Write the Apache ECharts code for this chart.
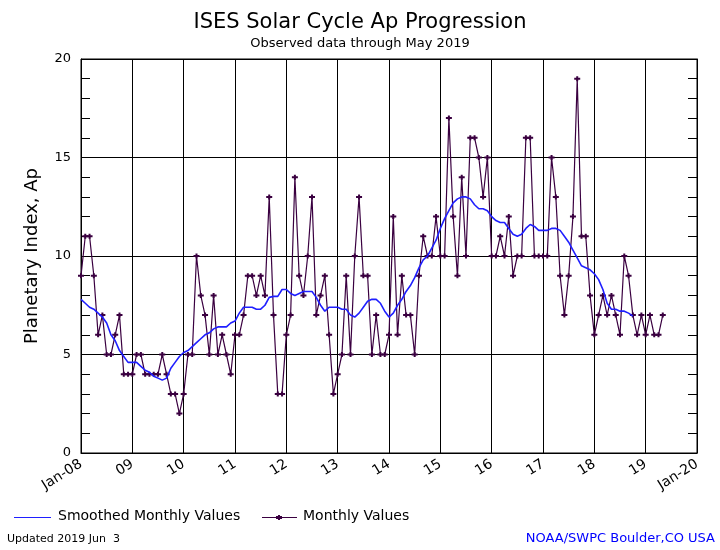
<!DOCTYPE html>
<html>
<head>
<meta charset="utf-8">
<script src="https://cdn.jsdelivr.net/npm/echarts@6/dist/echarts.min.js"></script>
<style>
html,body{margin:0;padding:0;background:#fff;}
#chart{width:720px;height:550px;}
</style>
</head>
<body>
<div id="chart"></div>
<script>
// Tick labels for the month axis (one every 12 months, starting Jan 2008)
const xTickLabels = ['Jan-08','09','10','11','12','13','14','15','16','17','18','19','Jan-20'];
// Monthly observed Ap values, Jan 2008 .. May 2019
const monthlyAp = [
  9, 11, 11, 9, 6, 7, 5, 5, 6, 7, 4, 4,
  4, 5, 5, 4, 4, 4, 4, 5, 4, 3, 3, 2,
  3, 5, 5, 10, 8, 7, 5, 8, 5, 6, 5, 4,
  6, 6, 7, 9, 9, 8, 9, 8, 13, 7, 3, 3,
  6, 7, 14, 9, 8, 10, 13, 7, 8, 9, 6, 3,
  4, 5, 9, 5, 10, 13, 9, 9, 5, 7, 5, 5,
  6, 12, 6, 9, 7, 7, 5, 9, 11, 10, 10, 12,
  10, 10, 17, 12, 9, 14, 10, 16, 16, 15, 13, 15,
  10, 10, 11, 10, 12, 9, 10, 10, 16, 16, 10, 10,
  10, 10, 15, 13, 9, 7, 9, 12, 19, 11, 11, 8,
  6, 7, 8, 7, 8, 7, 6, 10, 9, 7, 6, 7,
  6, 7, 6, 6, 7
];
// Smoothed monthly Ap values, Jan 2008 .. Nov 2018
const smoothedAp = [
  7.8, 7.6, 7.4, 7.3, 7.1, 6.9, 6.6, 6.0, 5.7, 5.2, 4.9, 4.6,
  4.6, 4.6, 4.4, 4.2, 4.1, 3.9, 3.8, 3.7, 3.8, 4.3, 4.6, 4.9,
  5.1, 5.2, 5.4, 5.6, 5.8, 6.0, 6.1, 6.3, 6.4, 6.4, 6.4, 6.6,
  6.7, 7.1, 7.4, 7.4, 7.4, 7.3, 7.3, 7.5, 7.9, 7.95, 7.95, 8.3,
  8.3, 8.1, 8.0, 8.1, 8.2, 8.2, 8.2, 7.9, 7.5, 7.2, 7.4, 7.4,
  7.4, 7.3, 7.3, 7.0, 6.9, 7.1, 7.4, 7.7, 7.8, 7.8, 7.6, 7.2,
  6.9, 7.1, 7.5, 7.8, 8.2, 8.5, 8.9, 9.4, 9.8, 10.0, 10.4, 10.8,
  11.4, 11.9, 12.3, 12.7, 12.9, 13.0, 13.0, 12.9, 12.6, 12.4, 12.4, 12.3,
  12.0, 11.8, 11.7, 11.7, 11.4, 11.1, 11.0, 11.1, 11.4, 11.6, 11.5, 11.3,
  11.3, 11.3, 11.4, 11.4, 11.3, 11.0, 10.7, 10.3, 9.9, 9.5, 9.4, 9.3,
  9.1, 8.8, 8.3, 7.6, 7.3, 7.3, 7.2, 7.2, 7.1, 6.95
];
const yTicks = [0, 5, 10, 15, 20];

const FONT = 'DejaVu Sans';
const PURPLE = '#3a0040';
const BLUE = '#1f1fff';
const plusPath = 'path://M0,1.5L6,1.5L6,3.5L0,3.5Z M2,0L4,0L4,5L2,5Z';

const chart = echarts.init(document.getElementById('chart'), null, {renderer: 'canvas'});
const option = {
  backgroundColor: '#ffffff',
  animation: false,
  title: [
    {text: 'ISES Solar Cycle Ap Progression', left: 'center', top: 7,
     textStyle: {fontFamily: FONT, fontSize: 21, fontWeight: 'normal', color: '#000'}},
    {text: 'Observed data through May 2019', left: 'center', top: 32,
     textStyle: {fontFamily: FONT, fontSize: 13, fontWeight: 'normal', color: '#000'}}
  ],
  grid: {left: 81, right: 23, top: 59, bottom: 97, show: true, borderColor: '#000', borderWidth: 1},
  xAxis: {
    type: 'value', min: 0, max: 144, interval: 12,
    axisLine: {show: true, lineStyle: {color: '#000'}},
    axisTick: {show: false},
    splitLine: {show: true, lineStyle: {color: '#000', width: 1}},
    axisLabel: {
      rotate: 32, margin: 10, fontFamily: FONT, fontSize: 14, color: '#000',
      formatter: v => xTickLabels[Math.round(v / 12)] || ''
    }
  },
  yAxis: [
    {
      type: 'value', min: yTicks[0], max: yTicks[yTicks.length - 1], interval: 5,
      name: 'Planetary Index, Ap', nameLocation: 'middle', nameGap: 40,
      nameTextStyle: {fontFamily: FONT, fontSize: 18, color: '#000'},
      axisLine: {show: true, lineStyle: {color: '#000'}},
      axisTick: {show: true, inside: true, length: 9, lineStyle: {color: '#000'}},
      minorTick: {show: true, splitNumber: 5, length: 9, lineStyle: {color: '#000'}},
      splitLine: {show: true, lineStyle: {color: '#000', width: 1}},
      axisLabel: {fontFamily: FONT, fontSize: 13, color: '#000', margin: 10}
    },
    {
      type: 'value', min: yTicks[0], max: yTicks[yTicks.length - 1], interval: 5, position: 'right',
      axisLine: {show: true, lineStyle: {color: '#000'}},
      axisTick: {show: true, inside: true, length: 9, lineStyle: {color: '#000'}},
      minorTick: {show: true, splitNumber: 5, length: 9, lineStyle: {color: '#000'}},
      splitLine: {show: false},
      axisLabel: {show: false}
    }
  ],
  series: [
    {
      name: 'Monthly Values', type: 'line',
      data: monthlyAp.map((v, i) => [i, v]),
      symbol: plusPath, symbolSize: [6, 5], showAllSymbol: true,
      itemStyle: {color: PURPLE},
      lineStyle: {color: PURPLE, width: 1.2},
      z: 3
    },
    {
      name: 'Smoothed Monthly Values', type: 'line',
      data: smoothedAp.map((v, i) => [i, v]),
      symbol: 'none',
      lineStyle: {color: BLUE, width: 1.6},
      z: 4
    }
  ],
  graphic: [
    {type: 'line', shape: {x1: 14, y1: 517.5, x2: 51, y2: 517.5}, style: {stroke: BLUE, lineWidth: 1}},
    {type: 'text', left: 58, top: 509, style: {text: 'Smoothed Monthly Values', font: '14px "DejaVu Sans"', fill: '#000'}},
    {type: 'line', shape: {x1: 262, y1: 517.5, x2: 297, y2: 517.5}, style: {stroke: PURPLE, lineWidth: 1}},
    {type: 'rect', shape: {x: 276, y: 516, width: 6, height: 3}, style: {fill: PURPLE}},
    {type: 'rect', shape: {x: 278, y: 515, width: 2, height: 5}, style: {fill: PURPLE}},
    {type: 'text', left: 303, top: 509, style: {text: 'Monthly Values', font: '14px "DejaVu Sans"', fill: '#000'}},
    {type: 'text', left: 7, top: 534, style: {text: 'Updated 2019 Jun  3', font: '11px "DejaVu Sans"', fill: '#000'}},
    {type: 'text', right: 5, top: 532, style: {text: 'NOAA/SWPC Boulder,CO USA', font: '13px "DejaVu Sans"', fill: '#0000ff'}}
  ]
};
chart.setOption(option);
</script>
</body>
</html>
